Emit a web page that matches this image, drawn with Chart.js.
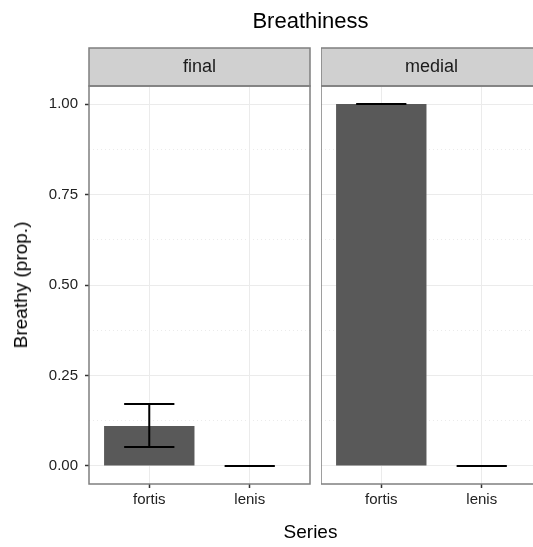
<!DOCTYPE html>
<html>
<head>
<meta charset="utf-8">
<script src="https://cdn.jsdelivr.net/npm/chart.js@4"></script>
<style>
  body { margin: 0; background: #fff; }
  #wrap { position: relative; width: 533px; height: 547px; overflow: hidden; font-family: "Liberation Sans", Arial, sans-serif; }
  canvas { position: absolute; top: 0; }
  #left { left: 0; }
  #right { left: 321px; }
  .lbl { position: absolute; color: #000; white-space: nowrap; }
  #title { left: 0; width: 621px; top: 8px; text-align: center; font-size: 22px; }
  #xtitle { left: 0; width: 621px; top: 521px; text-align: center; font-size: 19px; }
  #ytitle { left: 21px; top: 285px; font-size: 19px; transform: translate(-50%, -50%) rotate(-90deg); }
</style>
</head>
<body>
<div id="wrap">
  <canvas id="left" width="311" height="547"></canvas>
  <canvas id="right" width="222" height="547"></canvas>
  <div class="lbl" id="title">Breathiness</div>
  <div class="lbl" id="ytitle">Breathy (prop.)</div>
  <div class="lbl" id="xtitle">Series</div>
</div>
<script>
// facets and categories
const panels = ['final', 'medial'];
const categories = ['fortis', 'lenis'];

// proportion breathy with lower / upper error limits
const finalProp = [0.11, 0];
const finalLow = [0.052, 0];
const finalHigh = [0.171, 0];
const medialProp = [1, 0];
const medialLow = [1, 0];
const medialHigh = [1, 0];

const yTicks = [0, 0.25, 0.5, 0.75, 1];
const yGrid = [0, 0.125, 0.25, 0.375, 0.5, 0.625, 0.75, 0.875, 1];

const TICK_FONT = { family: 'Liberation Sans', size: 15 };
const isMajor = v => yTicks.includes(v);

// strip header, panel border and error bars
const facetPlugin = {
  id: 'facet',
  afterDatasetsDraw(chart) {
    const { ctx, scales: { x, y } } = chart;
    const o = chart.options.plugins.facet;
    const half = x.getPixelForValue(1.25) - x.getPixelForValue(1);
    ctx.save();
    ctx.strokeStyle = '#000';
    ctx.lineWidth = 2;
    o.low.forEach((lo, i) => {
      const px = x.getPixelForValue(i + 1);
      const y0 = y.getPixelForValue(lo);
      const y1 = y.getPixelForValue(o.high[i]);
      ctx.beginPath();
      ctx.moveTo(px, y0); ctx.lineTo(px, y1);
      ctx.moveTo(px - half, y0); ctx.lineTo(px + half, y0);
      ctx.moveTo(px - half, y1); ctx.lineTo(px + half, y1);
      ctx.stroke();
    });
    ctx.restore();
  },
  afterDraw(chart) {
    const { ctx, chartArea: a } = chart;
    const o = chart.options.plugins.facet;
    ctx.save();
    ctx.fillStyle = '#d0d0d0';
    ctx.fillRect(a.left, 48, a.right - a.left, a.top - 48);
    ctx.strokeStyle = '#7f7f7f';
    ctx.lineWidth = 1.5;
    ctx.strokeRect(a.left, 48, a.right - a.left, a.top - 48);
    ctx.strokeRect(a.left, a.top, a.right - a.left, a.bottom - a.top);
    ctx.fillStyle = '#1a1a1a';
    ctx.font = '18px "Liberation Sans"';
    ctx.textAlign = 'center';
    ctx.textBaseline = 'middle';
    ctx.fillText(o.name, (a.left + a.right) / 2, (48 + a.top) / 2);
    ctx.restore();
  }
};

function makePanel(id, name, values, low, high, showY) {
  return new Chart(document.getElementById(id), {
    type: 'bar',
    data: {
      datasets: [{
        data: values.map((v, i) => ({ x: i + 1, y: v })),
        backgroundColor: '#595959',
        barPercentage: 0.9,
        categoryPercentage: 1
      }]
    },
    options: {
      responsive: false,
      animation: false,
      layout: { padding: { top: 86, right: 1, left: 0, bottom: 0 } },
      plugins: {
        legend: { display: false },
        tooltip: { enabled: false },
        facet: { name, low, high }
      },
      scales: {
        x: {
          type: 'linear',
          min: 0.4,
          max: 2.6,
          offset: false,
          afterBuildTicks: s => { s.ticks = categories.map((c, i) => ({ value: i + 1 })); },
          afterFit: s => { s.height = 63; },
          grid: { offset: false, color: '#ebebeb', lineWidth: 1, tickLength: 4, tickColor: '#333', tickWidth: 1.5 },
          border: { display: false },
          ticks: {
            font: TICK_FONT,
            color: '#222',
            padding: 3,
            maxRotation: 0,
            callback: v => categories[v - 1]
          }
        },
        y: {
          min: -0.05,
          max: 1.05,
          afterBuildTicks: s => { s.ticks = yGrid.map(v => ({ value: v })); },
          afterFit: s => { s.width = showY ? 89 : 0; },
          grid: {
            color: '#ebebeb',
            lineWidth: 1,
            drawTicks: showY,
            tickLength: 4,
            tickWidth: 1.5,
            tickColor: c => isMajor(c.tick.value) ? '#333' : 'rgba(0,0,0,0)'
          },
          border: {
            display: false,
            dash: c => (c.tick && !isMajor(c.tick.value)) ? [1, 3] : []
          },
          ticks: {
            display: showY,
            font: TICK_FONT,
            color: '#222',
            padding: 7,
            callback: v => isMajor(v) ? v.toFixed(2) : ''
          }
        }
      }
    },
    plugins: [facetPlugin]
  });
}

makePanel('left', panels[0], finalProp, finalLow, finalHigh, true);
makePanel('right', panels[1], medialProp, medialLow, medialHigh, false);
</script>
</body>
</html>
